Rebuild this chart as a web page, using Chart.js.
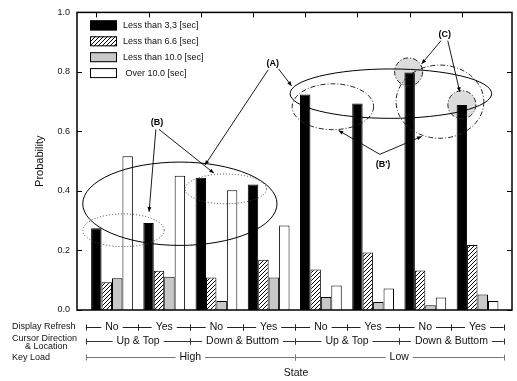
<!DOCTYPE html>
<html>
<head>
<meta charset="utf-8">
<script src="https://cdn.jsdelivr.net/npm/chart.js@4.4.1/dist/chart.umd.min.js"></script>
<style>
  html, body { margin: 0; padding: 0; background: #fff; }
  #wrap { width: 517px; height: 381px; }
</style>
</head>
<body>
<div id="wrap"><canvas id="chart" width="517" height="381"></canvas></div>
<script>
// states 1..8, share of response times per class
const stateIndex = [1, 2, 3, 4, 5, 6, 7, 8];
const under33 = [0.275, 0.292, 0.444, 0.422, 0.724, 0.694, 0.798, 0.689];
const under66 = [0.093, 0.132, 0.109, 0.169, 0.136, 0.193, 0.133, 0.218];
const under100 = [0.107, 0.112, 0.030, 0.109, 0.044, 0.027, 0.016, 0.052];
const over100 = [0.517, 0.451, 0.402, 0.284, 0.082, 0.072, 0.042, 0.030];
const seriesLabels = ['Less than 3,3 [sec]', 'Less than 6.6 [sec]', 'Less than 10.0 [sec]', ' Over 10.0 [sec]'];

// factor rows below the axis
const displayRefresh = ['No', 'Yes', 'No', 'Yes', 'No', 'Yes', 'No', 'Yes'];
const cursorDirection = ['Up & Top', 'Down & Buttom', 'Up & Top', 'Down & Buttom'];
const keyLoad = ['High', 'Low'];

const FONT = "'Liberation Sans', Arial, Helvetica, sans-serif";
Chart.defaults.font.family = FONT;
Chart.defaults.font.size = 9;
Chart.defaults.color = '#111';

function makeHatch() {
    var c = document.createElement('canvas');
    c.width = 4; c.height = 4;
    var g = c.getContext('2d');
    g.fillStyle = '#fff';
    g.fillRect(0, 0, 4, 4);
    g.strokeStyle = '#000';
    g.lineWidth = 1;
    g.beginPath();
    g.moveTo(0, 4); g.lineTo(4, 0);
    g.moveTo(-1, 1); g.lineTo(1, -1);
    g.moveTo(3, 5); g.lineTo(5, 3);
    g.stroke();
    return g.createPattern(c, 'repeat');
}

function toPoints(values) {
    return values.map((v, i) => ({ x: stateIndex[i], y: v }));
}

const fills = ['#000', makeHatch(), '#c8c8c8', '#fff'];
const seriesValues = [under33, under66, under100, over100];

// annotation marks, in data units (x: state, y: probability)
const ellipses = [
    { cx: 2.30, cy: 0.357, rx: 1.86, ry: 0.140, dash: [], color: '#000' },
    { cx: 6.34, cy: 0.727, rx: 1.93, ry: 0.083, dash: [], color: '#000' },
    { cx: 1.22, cy: 0.268, rx: 0.78, ry: 0.055, dash: [1, 2], color: '#444' },
    { cx: 3.18, cy: 0.407, rx: 0.78, ry: 0.050, dash: [1, 2], color: '#444' },
    { cx: 5.23, cy: 0.683, rx: 0.78, ry: 0.077, dash: [5, 2, 1, 2], color: '#222' },
    { cx: 7.28, cy: 0.700, rx: 0.84, ry: 0.123, dash: [5, 2, 1, 2], color: '#222' }
];
const circles = [
    { cx: 6.68, cy: 0.800, r: 14 },
    { cx: 7.70, cy: 0.690, r: 14 }
];
const arrows = [
    [3.99, 0.807, 2.78, 0.487], [4.19, 0.810, 4.44, 0.753],
    [1.84, 0.607, 1.71, 0.330], [1.90, 0.607, 2.95, 0.460],
    [6.13, 0.523, 5.34, 0.603], [6.13, 0.523, 6.93, 0.583],
    [7.30, 0.905, 6.93, 0.827], [7.43, 0.905, 7.66, 0.733]
];
const marks = [
    { text: '(A)', x: 4.08, y: 0.827 },
    { text: '(B)', x: 1.86, y: 0.630 },
    { text: "(B')", x: 6.19, y: 0.490 },
    { text: '(C)', x: 7.37, y: 0.927 }
];

function arrowLine(ctx, x0, y0, x1, y1) {
    ctx.beginPath();
    ctx.moveTo(x0, y0);
    ctx.lineTo(x1, y1);
    ctx.stroke();
    var a = Math.atan2(y1 - y0, x1 - x0), L = 5, w = 0.4;
    ctx.beginPath();
    ctx.moveTo(x1, y1);
    ctx.lineTo(x1 - L * Math.cos(a - w), y1 - L * Math.sin(a - w));
    ctx.lineTo(x1 - L * Math.cos(a + w), y1 - L * Math.sin(a + w));
    ctx.closePath();
    ctx.fill();
}

const decorations = {
    id: 'decorations',
    beforeDatasetsDraw(chart) {
        var ctx = chart.ctx, xs = chart.scales.x, ys = chart.scales.y;
        ctx.save();
        circles.forEach(c => {
            ctx.beginPath();
            ctx.arc(xs.getPixelForValue(c.cx), ys.getPixelForValue(c.cy), c.r, 0, Math.PI * 2);
            ctx.fillStyle = '#dcdcdc';
            ctx.fill();
        });
        ctx.restore();
    },
    afterDatasetsDraw(chart) {
        var ctx = chart.ctx, xs = chart.scales.x, ys = chart.scales.y, a = chart.chartArea;
        ctx.save();

        // frame with inward ticks
        ctx.strokeStyle = '#000';
        ctx.lineWidth = 1.5;
        ctx.strokeRect(a.left, a.top, a.right - a.left, a.bottom - a.top);
        ctx.lineWidth = 1;
        ctx.beginPath();
        ys.ticks.forEach(t => {
            var y = Math.round(ys.getPixelForValue(t.value)) + 0.5;
            ctx.moveTo(a.left, y); ctx.lineTo(a.left + 5, y);
            ctx.moveTo(a.right, y); ctx.lineTo(a.right - 5, y);
        });
        chart.getDatasetMeta(0).data.forEach(bar => {
            var x = Math.round(bar.x) + 0.5;
            ctx.moveTo(x, a.top); ctx.lineTo(x, a.top + 5);
        });
        ctx.stroke();

        // legend
        chart.data.datasets.forEach((ds, i) => {
            var y = a.top + 8 + i * 15.9;
            ctx.fillStyle = ds.backgroundColor;
            ctx.fillRect(a.left + 13, y, 27, 10);
            ctx.strokeStyle = '#000';
            ctx.lineWidth = 1;
            ctx.strokeRect(a.left + 13.5, y + 0.5, 26, 9);
            ctx.fillStyle = '#111';
            ctx.font = '9px ' + FONT;
            ctx.textAlign = 'left';
            ctx.textBaseline = 'middle';
            ctx.fillText(ds.label, a.left + 46, y + 5.5);
        });

        // ellipses
        ellipses.forEach(e => {
            var cx = xs.getPixelForValue(e.cx), cy = ys.getPixelForValue(e.cy);
            var rx = Math.abs(xs.getPixelForValue(e.cx + e.rx) - cx);
            var ry = Math.abs(ys.getPixelForValue(e.cy + e.ry) - cy);
            ctx.beginPath();
            ctx.setLineDash(e.dash);
            ctx.strokeStyle = e.color;
            ctx.lineWidth = 1;
            ctx.ellipse(cx, cy, rx, ry, 0, 0, Math.PI * 2);
            ctx.stroke();
        });
        circles.forEach(c => {
            ctx.beginPath();
            ctx.setLineDash([5, 2, 1, 2]);
            ctx.strokeStyle = '#222';
            ctx.arc(xs.getPixelForValue(c.cx), ys.getPixelForValue(c.cy), c.r, 0, Math.PI * 2);
            ctx.stroke();
        });
        ctx.setLineDash([]);

        // arrows and labels
        ctx.strokeStyle = '#000';
        ctx.fillStyle = '#000';
        ctx.lineWidth = 0.9;
        arrows.forEach(p => arrowLine(ctx,
            xs.getPixelForValue(p[0]), ys.getPixelForValue(p[1]),
            xs.getPixelForValue(p[2]), ys.getPixelForValue(p[3])));
        ctx.font = 'bold 9px ' + FONT;
        ctx.textAlign = 'center';
        ctx.textBaseline = 'middle';
        marks.forEach(m => ctx.fillText(m.text, xs.getPixelForValue(m.x), ys.getPixelForValue(m.y)));
        ctx.restore();
    },
    afterDraw(chart) {
        var ctx = chart.ctx, xs = chart.scales.x;
        ctx.save();
        var rows = [
            { names: displayRefresh, y: 327.5, color: '#222' },
            { names: cursorDirection, y: 341.5, color: '#333' },
            { names: keyLoad, y: 357.5, color: '#777' }
        ];
        ctx.textBaseline = 'middle';
        rows.forEach(r => {
            var span = stateIndex.length / r.names.length;
            r.names.forEach((name, j) => {
                var x0 = xs.getPixelForValue(j * span + 0.5);
                var x1 = xs.getPixelForValue(j * span + span + 0.5);
                var mid = (x0 + x1) / 2;
                ctx.font = '10.5px ' + FONT;
                var w = ctx.measureText(name).width;
                ctx.strokeStyle = r.color;
                ctx.lineWidth = 1;
                ctx.beginPath();
                ctx.moveTo(x0, r.y); ctx.lineTo(mid - w / 2 - 4, r.y);
                ctx.moveTo(mid + w / 2 + 4, r.y); ctx.lineTo(x1, r.y);
                ctx.moveTo(Math.round(x0) + 0.5, r.y - 3); ctx.lineTo(Math.round(x0) + 0.5, r.y + 3);
                ctx.moveTo(Math.round(x1) + 0.5, r.y - 3); ctx.lineTo(Math.round(x1) + 0.5, r.y + 3);
                ctx.stroke();
                ctx.fillStyle = '#111';
                ctx.textAlign = 'center';
                ctx.fillText(name, mid, r.y);
            });
        });

        ctx.font = '9px ' + FONT;
        ctx.fillStyle = '#111';
        ctx.textAlign = 'left';
        ctx.fillText('Display Refresh', 12, 326.5);
        ctx.fillText('Cursor Direction', 12, 339);
        ctx.fillText('& Location', 25, 346.5);
        ctx.fillText('Key Load', 12, 357.5);

        ctx.font = '10.5px ' + FONT;
        ctx.textAlign = 'center';
        ctx.fillText('State', 296, 373);
        ctx.restore();
    }
};

var ctx = document.getElementById('chart');

new Chart(ctx, {
    type: 'bar',
    data: {
        datasets: seriesValues.map((vals, i) => ({
            label: seriesLabels[i],
            data: toPoints(vals),
            backgroundColor: fills[i],
            borderColor: '#000',
            borderWidth: 1,
            categoryPercentage: 0.8,
            barPercentage: 1.0
        }))
    },
    options: {
        responsive: false,
        animation: false,
        layout: { padding: { left: 0, top: 10, right: 5, bottom: 71 } },
        plugins: {
            legend: { display: false },
            tooltip: { enabled: false }
        },
        scales: {
            x: {
                type: 'linear',
                min: 0.33,
                max: 8.66,
                offset: false,
                display: false,
                // one tick per state so the bar width follows the state spacing
                afterBuildTicks: scale => { scale.ticks = stateIndex.map(v => ({ value: v })); }
            },
            y: {
                min: 0,
                max: 1,
                ticks: {
                    stepSize: 0.2,
                    padding: 7,
                    font: { size: 9 },
                    callback: v => v.toFixed(1)
                },
                grid: { display: false, drawTicks: false },
                border: { display: false },
                title: {
                    display: true,
                    text: 'Probability',
                    font: { size: 11 },
                    padding: { top: 33, bottom: 0 }
                },
                afterFit: scale => { scale.width = 77; }
            }
        }
    },
    plugins: [decorations]
});
</script>
</body>
</html>
